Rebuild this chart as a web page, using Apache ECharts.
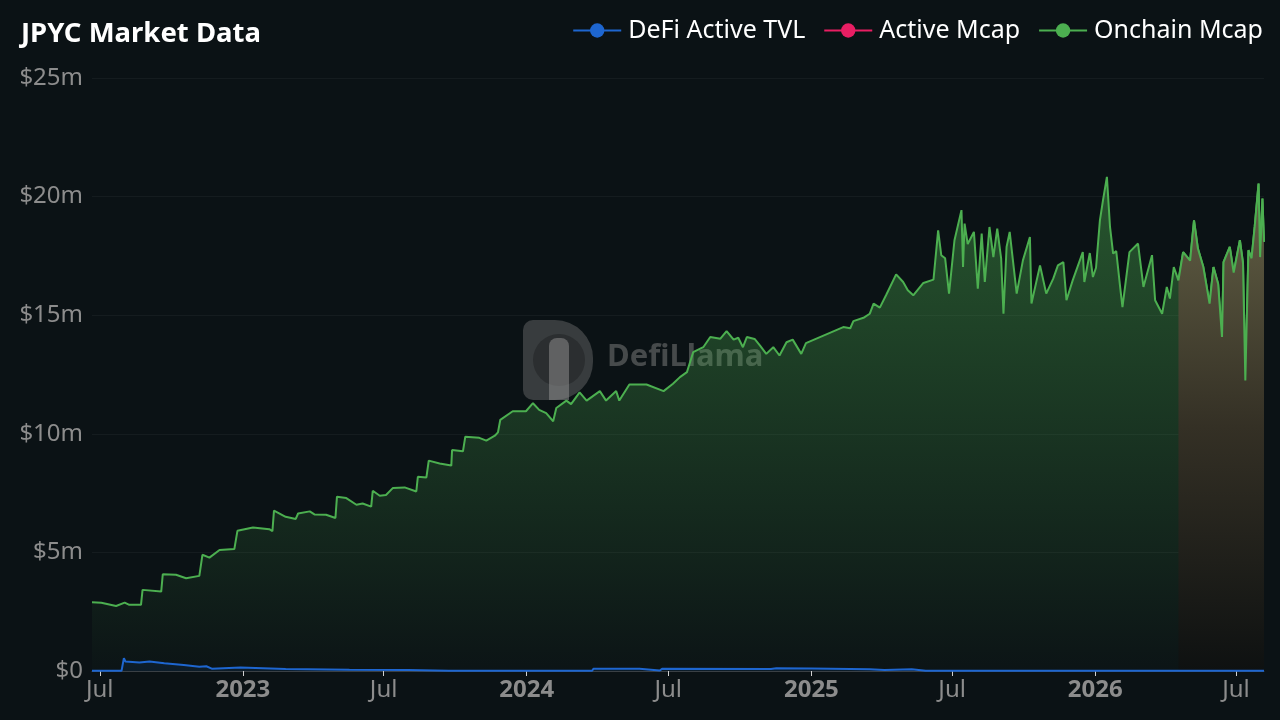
<!DOCTYPE html>
<html>
<head>
<meta charset="utf-8">
<script src="https://cdn.jsdelivr.net/npm/echarts@6/dist/echarts.min.js"></script>
<style>
html,body{margin:0;padding:0;background:#0b1215;}
#chart{width:1280px;height:720px;}
</style>
</head>
<body>
<div id="chart"></div>
<script>
// Onchain Mcap ($m)
const onchainDates = [
'2022-06-21','2022-07-03','2022-07-22','2022-08-02','2022-08-08','2022-08-23','2022-08-25','2022-09-18','2022-09-20','2022-10-07',
'2022-10-20','2022-11-06','2022-11-10','2022-11-19','2022-12-02','2022-12-21','2022-12-25','2023-01-14','2023-02-04','2023-02-08',
'2023-02-10','2023-02-25','2023-03-10','2023-03-13','2023-03-28','2023-04-03','2023-04-18','2023-04-30','2023-05-02','2023-05-14',
'2023-05-27','2023-06-04','2023-06-15','2023-06-17','2023-06-26','2023-07-04','2023-07-13','2023-07-28','2023-08-12','2023-08-14',
'2023-08-25','2023-08-28','2023-09-11','2023-09-26','2023-09-27','2023-10-11','2023-10-14','2023-11-01','2023-11-10','2023-11-21',
'2023-11-25','2023-11-28','2023-12-14','2023-12-31','2024-01-09','2024-01-17','2024-01-26','2024-02-04','2024-02-08','2024-02-21',
'2024-02-27','2024-03-09','2024-03-18','2024-04-04','2024-04-12','2024-04-25','2024-04-29','2024-05-12','2024-06-03','2024-06-25',
'2024-07-07','2024-07-16','2024-07-25','2024-08-02','2024-08-15','2024-08-24','2024-09-06','2024-09-14','2024-09-23','2024-09-29',
'2024-10-05','2024-10-10','2024-10-20','2024-10-27','2024-11-04','2024-11-13','2024-11-21','2024-11-30','2024-12-08','2024-12-19',
'2024-12-25','2025-02-11','2025-02-20','2025-02-24','2025-03-09','2025-03-17','2025-03-22','2025-03-30','2025-04-07','2025-04-20',
'2025-04-29','2025-05-05','2025-05-12','2025-05-25','2025-06-07','2025-06-09','2025-06-13','2025-06-17','2025-06-22','2025-06-27',
'2025-07-04','2025-07-13','2025-07-15','2025-07-17','2025-07-21','2025-07-29','2025-08-03','2025-08-08','2025-08-12','2025-08-18',
'2025-08-23','2025-08-28','2025-09-02','2025-09-05','2025-09-09','2025-09-13','2025-09-22','2025-09-30','2025-10-09','2025-10-11',
'2025-10-22','2025-10-30','2025-11-08','2025-11-14','2025-11-21','2025-11-25','2025-12-03','2025-12-16','2025-12-18','2025-12-25',
'2025-12-29','2026-01-02','2026-01-07','2026-01-11','2026-01-16','2026-01-20','2026-01-24','2026-01-28','2026-02-02','2026-02-05',
'2026-02-14','2026-02-25','2026-03-04','2026-03-15','2026-03-19','2026-03-28','2026-04-03','2026-04-07','2026-04-12','2026-04-18',
'2026-04-24','2026-05-03','2026-05-08','2026-05-13','2026-05-20','2026-05-28','2026-06-02','2026-06-08','2026-06-13','2026-06-15',
'2026-06-23','2026-06-28','2026-07-06','2026-07-10','2026-07-13','2026-07-17','2026-07-21','2026-07-25','2026-07-30','2026-08-01',
'2026-08-04','2026-08-06'
];
const onchainValues = [
2.90,2.88,2.74,2.88,2.79,2.79,3.42,3.35,4.08,4.06,
3.91,4.01,4.90,4.78,5.10,5.14,5.91,6.05,5.98,5.90,
6.76,6.50,6.41,6.64,6.73,6.60,6.59,6.45,7.35,7.29,
7.01,7.06,6.93,7.60,7.39,7.42,7.72,7.74,7.57,8.19,
8.16,8.87,8.75,8.66,9.32,9.26,9.88,9.83,9.71,9.92,
10.06,10.59,10.95,10.95,11.29,11.01,10.87,10.53,11.09,11.40,
11.25,11.75,11.40,11.80,11.40,11.80,11.40,12.08,12.08,11.80,
12.11,12.39,12.60,13.44,13.65,14.08,14.01,14.33,13.97,14.05,
13.65,14.08,14.00,13.72,13.37,13.65,13.30,13.86,13.97,13.37,
13.82,14.50,14.45,14.75,14.89,15.06,15.49,15.32,15.84,16.72,
16.40,16.05,15.84,16.36,16.50,16.54,18.58,17.53,17.40,15.91,
18.16,19.43,17.03,18.86,18.00,18.51,16.12,18.44,16.40,18.72,
17.45,18.65,17.40,15.06,17.88,18.51,15.91,17.31,18.30,15.49,
17.10,15.91,16.54,17.10,17.24,15.63,16.47,17.66,16.40,17.62,
16.61,17.00,19.00,19.85,20.83,18.72,17.60,17.70,16.19,15.34,
17.66,18.02,16.19,17.53,15.63,15.06,16.19,15.70,17.03,16.47,
17.66,17.30,19.00,17.81,17.03,15.49,17.03,16.33,14.08,17.24,
17.88,16.80,18.16,17.20,12.25,17.74,17.40,18.72,20.55,17.45,
19.92,18.09
];

// DeFi Active TVL ($m)
const tvlDates = [
'2022-06-21','2022-07-29','2022-08-01','2022-08-03','2022-08-21','2022-09-03','2022-09-22','2022-10-17','2022-11-06','2022-11-15',
'2022-11-22','2022-12-29','2023-02-25','2023-05-18','2023-08-01','2023-09-23','2024-03-25','2024-03-27','2024-05-25','2024-06-20',
'2024-06-23','2024-11-10','2024-11-11','2024-11-17','2025-01-01','2025-03-17','2025-04-05','2025-05-10','2025-05-28','2026-08-06'
];
const tvlValues = [
0.01,0.01,0.54,0.40,0.36,0.40,0.33,0.25,0.18,0.20,
0.10,0.15,0.08,0.05,0.04,0.01,0.01,0.10,0.09,0.02,
0.09,0.08,0.03,0.12,0.11,0.07,0.04,0.07,0.01,0.01
];

// Active Mcap ($m) - no visible data
const activeMcapDates = [];
const activeMcapValues = [];

const shadeStart = '2026-04-18';
const xMin = '2022-06-21';
const xMax = '2026-08-06';

const onchain = onchainDates.map((d, i) => [d, onchainValues[i]]);
const tvl = tvlDates.map((d, i) => [d, tvlValues[i]]);
const activeMcap = activeMcapDates.map((d, i) => [d, activeMcapValues[i]]);
const shaded = onchain.filter(p => p[0] >= shadeStart);

const FONT = 'Noto Sans';
const chart = echarts.init(document.getElementById('chart'), null, {renderer: 'canvas'});
chart.setOption({
  backgroundColor: '#0b1215',
  animation: false,
  textStyle: {fontFamily: FONT},
  title: {
    text: 'JPYC Market Data', left: 16, top: 15,
    textStyle: {color: '#ffffff', fontSize: 27.5, fontWeight: 'bold', fontFamily: FONT}
  },
  legend: {
    data: ['DeFi Active TVL', 'Active Mcap', 'Onchain Mcap'],
    right: 12, top: 13,
    itemWidth: 48, itemHeight: 18, itemGap: 18,
    textStyle: {color: '#ffffff', fontSize: 25, fontFamily: FONT, padding: [0, 0, 0, 2]}
  },
  grid: {left: 92, right: 16, top: 78, bottom: 49},
  xAxis: {
    type: 'time', min: xMin, max: xMax,
    splitNumber: 8,
    minInterval: 175 * 86400000,
    maxInterval: 190 * 86400000,
    axisLine: {lineStyle: {color: '#3a4045', width: 1}},
    axisTick: {show: true, length: 5, lineStyle: {color: '#d0d0d0'}},
    splitLine: {show: false},
    axisLabel: {
      color: '#8c8c8c', fontSize: 24, margin: 7, fontFamily: FONT,
      formatter: {year: '{yr|{yyyy}}', month: '{MMM}', day: '{MMM}'},
      rich: {yr: {fontWeight: 'bold', fontSize: 24, color: '#8c8c8c', fontFamily: FONT}}
    }
  },
  yAxis: {
    type: 'value', min: 0, max: 25, interval: 5,
    axisLine: {show: false}, axisTick: {show: false},
    splitLine: {lineStyle: {color: 'rgba(255,255,255,0.045)', width: 1}},
    axisLabel: {
      color: '#8c8c8c', fontSize: 24, margin: 9, fontFamily: FONT,
      formatter: v => v === 0 ? '$0' : '$' + v + 'm'
    }
  },
  graphic: [{
    type: 'group', left: 523, top: 320, silent: true, z: 0,
    children: [
      {type: 'rect', shape: {x: 0, y: 0, width: 70, height: 80, r: [10, 38, 38, 10]},
       style: {fill: 'rgba(120,120,120,0.42)'}},
      {type: 'circle', shape: {cx: 36, cy: 40, r: 26},
       style: {fill: 'rgba(30,32,34,0.5)'}},
      {type: 'rect', shape: {x: 26, y: 18, width: 20, height: 62, r: [8, 8, 0, 0]},
       style: {fill: 'rgba(140,140,140,0.55)'}},
      {type: 'text', left: 84, top: 22, style: {text: 'DefiLlama', fill: 'rgba(130,130,130,0.5)',
        font: 'bold 31px "Noto Sans"'}}
    ]
  }],
  series: [
    {
      name: 'Onchain Mcap', type: 'line', data: onchain,
      symbol: 'circle', showSymbol: false, symbolSize: 6,
      color: '#4caf50',
      lineStyle: {color: '#4caf50', width: 2},
      areaStyle: {color: new echarts.graphic.LinearGradient(0, 0, 0, 1, [
        {offset: 0, color: 'rgba(76,175,80,0.62)'},
        {offset: 1, color: 'rgba(76,175,80,0.02)'}
      ])},
      z: 2
    },
    {
      name: 'shade', type: 'line', data: shaded,
      symbol: 'none', showSymbol: false,
      lineStyle: {color: '#4caf50', width: 2},
      areaStyle: {opacity: 1, color: new echarts.graphic.LinearGradient(0, 0, 0, 1, [
        {offset: 0, color: 'rgb(100,97,70)'},
        {offset: 0.5, color: 'rgb(52,48,37)'},
        {offset: 1, color: 'rgb(14,17,17)'}
      ])},
      z: 3, silent: true
    },
    {
      name: 'Active Mcap', type: 'line', data: activeMcap,
      symbol: 'circle', showSymbol: false, color: '#e91e63',
      lineStyle: {color: '#e91e63', width: 2}, z: 4
    },
    {
      name: 'DeFi Active TVL', type: 'line', data: tvl,
      symbol: 'circle', showSymbol: false, color: '#1e66d0',
      lineStyle: {color: '#1e66d0', width: 2},
      areaStyle: {color: 'rgba(30,102,208,0.15)'},
      z: 5
    }
  ]
});
</script>
</body>
</html>
